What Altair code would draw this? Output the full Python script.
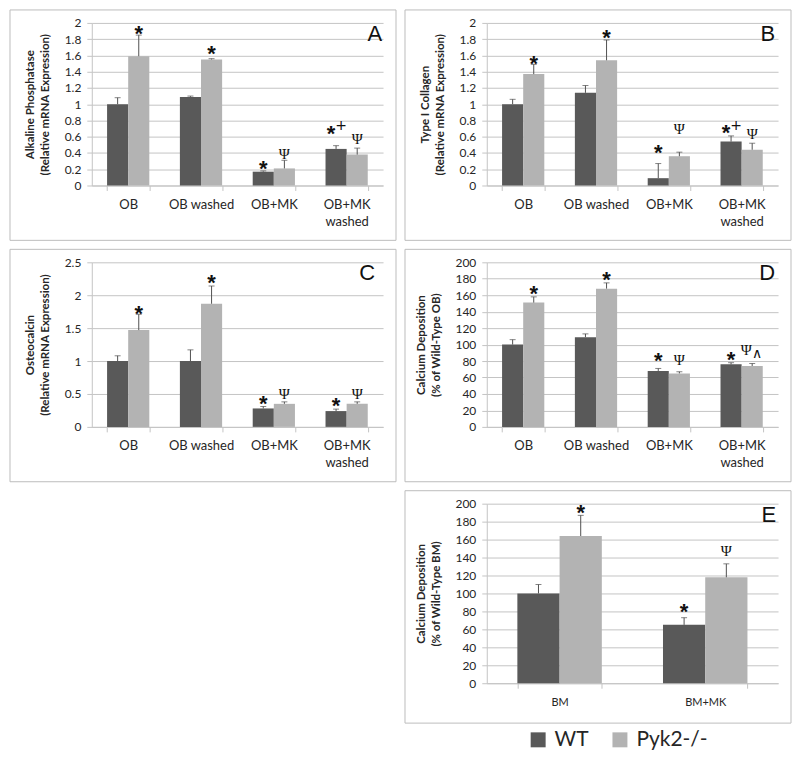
import altair as alt
import pandas as pd

series = ["WT", "Pyk2-/-"]
colors = ["#595959", "#b3b3b3"]

ob_cats = ["OB", "OB washed", "OB+MK", "OB+MK washed"]
bm_cats = ["BM", "BM+MK"]

# ---- Panel A: Alkaline Phosphatase
A_wt = [1.00, 1.09, 0.17, 0.45]
A_wt_hi = [1.08, 1.10, 0.18, 0.49]
A_ko = [1.59, 1.55, 0.21, 0.38]
A_ko_hi = [1.85, 1.56, 0.31, 0.46]
A_notes = [
    ("OB", "Pyk2-/-", "*", 1.93, "", None),
    ("OB washed", "Pyk2-/-", "*", 1.68, "", None),
    ("OB+MK", "WT", "*", 0.27, "", None),
    ("OB+MK", "Pyk2-/-", "Ψ", 0.39, "", None),
    ("OB+MK washed", "WT", "*", 0.70, "+", 0.74),
    ("OB+MK washed", "Pyk2-/-", "Ψ", 0.57, "", None),
]

# ---- Panel B: Type I Collagen
B_wt = [1.00, 1.14, 0.09, 0.54]
B_wt_hi = [1.06, 1.23, 0.27, 0.61]
B_ko = [1.37, 1.54, 0.36, 0.44]
B_ko_hi = [1.49, 1.79, 0.41, 0.52]
B_notes = [
    ("OB", "Pyk2-/-", "*", 1.56, "", None),
    ("OB washed", "Pyk2-/-", "*", 1.87, "", None),
    ("OB+MK", "WT", "*", 0.46, "", None),
    ("OB+MK", "Pyk2-/-", "Ψ", 0.69, "", None),
    ("OB+MK washed", "WT", "*", 0.71, "+", 0.75),
    ("OB+MK washed", "Pyk2-/-", "Ψ", 0.63, "", None),
]

# ---- Panel C: Osteocalcin
C_wt = [1.00, 1.00, 0.28, 0.24]
C_wt_hi = [1.08, 1.17, 0.31, 0.27]
C_ko = [1.47, 1.87, 0.35, 0.35]
C_ko_hi = [1.71, 2.14, 0.38, 0.38]
C_notes = [
    ("OB", "Pyk2-/-", "*", 1.79, "", None),
    ("OB washed", "Pyk2-/-", "*", 2.26, "", None),
    ("OB+MK", "WT", "*", 0.43, "", None),
    ("OB+MK", "Pyk2-/-", "Ψ", 0.50, "", None),
    ("OB+MK washed", "WT", "*", 0.39, "", None),
    ("OB+MK washed", "Pyk2-/-", "Ψ", 0.50, "", None),
]

# ---- Panel D: Calcium deposition (OB)
D_wt = [100, 109, 68, 76]
D_wt_hi = [106, 113, 71, 78]
D_ko = [151, 168, 65, 74]
D_ko_hi = [158, 175, 67, 77]
D_notes = [
    ("OB", "Pyk2-/-", "*", 168, "", None),
    ("OB washed", "Pyk2-/-", "*", 185, "", None),
    ("OB+MK", "WT", "*", 86, "", None),
    ("OB+MK", "Pyk2-/-", "Ψ", 81, "", None),
    ("OB+MK washed", "WT", "*", 87, "", None),
    ("OB+MK washed", "Pyk2-/-", "Ψ", 94, "∧", 90),
]

# ---- Panel E: Calcium deposition (BM)
E_wt = [100, 65]
E_wt_hi = [110, 73]
E_ko = [164, 118]
E_ko_hi = [187, 133]
E_notes = [
    ("BM", "Pyk2-/-", "*", 195, "", None),
    ("BM+MK", "WT", "*", 85, "", None),
    ("BM+MK", "Pyk2-/-", "Ψ", 147, "", None),
]

ticks_2 = [0, 0.2, 0.4, 0.6, 0.8, 1, 1.2, 1.4, 1.6, 1.8, 2]
ticks_25 = [0, 0.5, 1, 1.5, 2, 2.5]
ticks_200 = [0, 20, 40, 60, 80, 100, 120, 140, 160, 180, 200]

GRID = "#c4c4c4"
TXT = "#262626"
FONT = "Lato"
W = 292

color_enc = alt.Color(
    "series:N",
    scale=alt.Scale(domain=series, range=colors),
    title=None,
    legend=alt.Legend(
        orient="none", legendX=437, legendY=708, direction="horizontal",
        symbolType="square", symbolSize=225, symbolStrokeWidth=0,
        labelFont=FONT, labelFontSize=21, labelColor=TXT, labelOffset=6,
        columnPadding=20,
    ),
)


def make_df(cats, wt, wt_hi, ko, ko_hi):
    rows = []
    for i, c in enumerate(cats):
        rows.append({"cat": c, "series": series[0], "val": wt[i], "hi": wt_hi[i]})
        rows.append({"cat": c, "series": series[1], "val": ko[i], "hi": ko_hi[i]})
    return pd.DataFrame(rows)


def notes_df(notes):
    return pd.DataFrame(
        [{"cat": n[0], "series": n[1], "sym": n[2], "y": n[3], "sup": n[4],
          "sup_y": n[5] if n[5] is not None else 0} for n in notes]
    )


def panel(cats, wt, wt_hi, ko, ko_hi, notes, ymax, yticks, title, letter,
          height, letter_dx, xlab_size=13, bottom_pad=55):
    df = make_df(cats, wt, wt_hi, ko, ko_hi)
    nd = notes_df(notes)

    xs = alt.X(
        "cat:N", sort=cats,
        scale=alt.Scale(domain=cats, paddingInner=0.42, paddingOuter=0.21),
        title=None,
        axis=alt.Axis(
            labelAngle=0, grid=False, tickBand="extent", tickSize=5,
            domainColor=GRID, tickColor=GRID, labelPadding=8,
            labelFont=FONT, labelFontSize=xlab_size, labelColor=TXT,
            labelLineHeight=17,
            labelExpr="datum.value == 'OB+MK washed' ? ['OB+MK', 'washed'] : datum.label",
        ),
    )
    xo = alt.XOffset("series:N", sort=series, scale=alt.Scale(domain=series))

    def Y(field):
        return alt.Y(
            field, type="quantitative",
            scale=alt.Scale(domain=[0, ymax], nice=False),
            axis=alt.Axis(
                title=title, values=yticks, format="~f", grid=True,
                gridColor=GRID, domainColor=GRID, tickColor=GRID, tickSize=5,
                labelPadding=6, labelFont=FONT, labelFontSize=12,
                labelColor=TXT, titleFont=FONT, titleFontSize=11.5,
                titleFontWeight="bold", titleColor=TXT, titlePadding=14,
                titleLineHeight=15,
            ),
        )

    base = alt.Chart(df).encode(x=xs, xOffset=xo)
    bars = base.mark_bar().encode(y=Y("val"), color=color_enc)
    err = base.mark_rule(color="#505050", strokeWidth=1).encode(y=Y("val"), y2="hi:Q")
    cap = base.mark_tick(color="#505050", size=6, thickness=1).encode(y=Y("hi"))

    nbase = alt.Chart(nd).encode(x=xs, xOffset=xo)
    star_single = nbase.transform_filter("datum.sym == '*' && datum.sup == ''").mark_text(
        font="Liberation Sans", fontSize=22, fontWeight="bold", color="#111",
        baseline="alphabetic", dy=12).encode(y=Y("y"), text="sym:N")
    star_sup = nbase.transform_filter("datum.sym == '*' && datum.sup != ''").mark_text(
        font="Liberation Sans", fontSize=22, fontWeight="bold", color="#111",
        baseline="alphabetic", dy=12, dx=-5).encode(y=Y("y"), text="sym:N")
    psi_single = nbase.transform_filter("datum.sym == 'Ψ' && datum.sup == ''").mark_text(
        font="Liberation Serif", fontSize=15, color="#111",
        baseline="alphabetic", dy=5).encode(y=Y("y"), text="sym:N")
    psi_sup = nbase.transform_filter("datum.sym == 'Ψ' && datum.sup != ''").mark_text(
        font="Liberation Serif", fontSize=15, color="#111",
        baseline="alphabetic", dy=5, dx=-6).encode(y=Y("y"), text="sym:N")
    sup = nbase.transform_filter("datum.sup != ''").mark_text(
        font="DejaVu Sans", fontSize=14, color="#111",
        baseline="alphabetic", dy=5, dx=5).encode(y=Y("sup_y"), text="sup:N")

    one = alt.Data(values=[{"k": 1}])
    border = alt.Chart(one).mark_rect(
        fill="transparent", stroke="#bdbdbd", strokeWidth=1
    ).encode(
        x=alt.value(-82), x2=alt.value(W + 13),
        y=alt.value(-13), y2=alt.value(height + bottom_pad),
    )
    let = alt.Chart(one).mark_text(
        font="Liberation Sans", fontSize=22, align="right",
        baseline="alphabetic", color="#111",
    ).encode(x=alt.value(W + letter_dx), y=alt.value(18), text=alt.value(letter))

    return alt.layer(border, bars, err, cap, star_single, star_sup, psi_single,
                     psi_sup, sup, let).properties(width=W, height=height)


pA = panel(ob_cats, A_wt, A_wt_hi, A_ko, A_ko_hi, A_notes, 2, ticks_2,
           ["Alkaline Phosphatase", "(Relative mRNA Expression)"], "A", 163, -1)
pB = panel(ob_cats, B_wt, B_wt_hi, B_ko, B_ko_hi, B_notes, 2, ticks_2,
           ["Type I Collagen", "(Relative mRNA Expression)"], "B", 163, -3)
pC = panel(ob_cats, C_wt, C_wt_hi, C_ko, C_ko_hi, C_notes, 2.5, ticks_25,
           ["Osteocalcin", "(Relative mRNA Expression)"], "C", 165, -8)
pD = panel(ob_cats, D_wt, D_wt_hi, D_ko, D_ko_hi, D_notes, 200, ticks_200,
           ["Calcium Deposition", "(% of Wild-Type OB)"], "D", 165, -3)
pE = panel(bm_cats, E_wt, E_wt_hi, E_ko, E_ko_hi, E_notes, 200, ticks_200,
           ["Calcium Deposition", "(% of Wild-Type BM)"], "E", 180, -2,
           xlab_size=11, bottom_pad=40)

blank = alt.Chart(alt.Data(values=[{"k": 1}])).mark_point(opacity=0).encode(
    x=alt.value(0), y=alt.value(0)).properties(width=W, height=180)

chart = alt.concat(
    pA, pB, pC, pD, blank, pE, columns=2, bounds="flush",
    spacing={"row": 77, "column": 104},
).resolve_scale(color="shared", xOffset="independent").resolve_legend(
    color="shared"
).properties(
    padding={"left": 1, "top": 0, "right": 0, "bottom": 0}
).configure_view(strokeWidth=0)

chart.save("out.html", embed_options={"renderer": "svg", "actions": False})
